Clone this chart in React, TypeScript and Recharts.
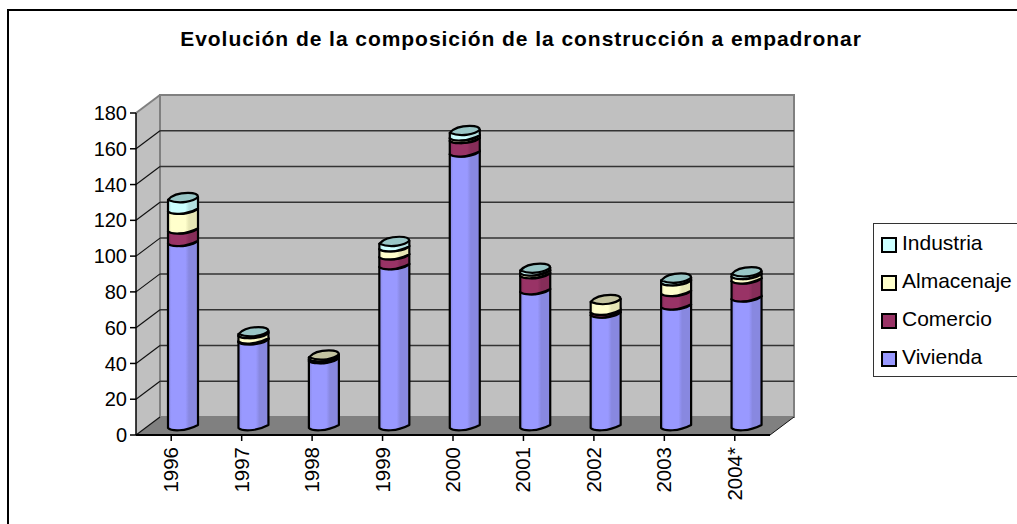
import { BarChart, Bar, XAxis, YAxis, Legend, usePlotArea } from 'recharts'

const years = ['1996', '1997', '1998', '1999', '2000', '2001', '2002', '2003', '2004*']
const vivienda = [103, 48, 37.5, 90, 153, 76, 63, 67.5, 72]
const comercio = [7, 0.5, 1, 5.5, 7.5, 9, 1.5, 7.5, 10]
const almacenaje = [11, 3, 1, 4.5, 1.5, 1.5, 6, 6, 2.5]
const industria = [6.5, 1, 0, 3, 3, 1.5, 0, 1.5, 1.5]
const yTicks = [0, 20, 40, 60, 80, 100, 120, 140, 160, 180]
const yMax = 180

const seriesNames = ['Vivienda', 'Comercio', 'Almacenaje', 'Industria']
const seriesColors = ['#9999FF', '#993366', '#FFFFCC', '#CCFFFF']
const shadeColors = ['#8888E0', '#862D59', '#E6E6B4', '#B3E0E0']
const capColors = ['#7A7ACC', '#7A2952', '#C4C4A0', '#99C6C6']

const data = years.map((year, i) => ({
  year,
  Vivienda: vivienda[i],
  Comercio: comercio[i],
  Almacenaje: almacenaje[i],
  Industria: industria[i],
}))

const FONT = '"Liberation Sans", Arial, sans-serif'
const DEPTH_X = 24
const DEPTH_Y = 18
const BAR_DX = 12
const BAR_DY = -7

// back wall, side wall, floor and the gridlines running over them
const Walls = () => {
  const plot = usePlotArea()
  if (!plot) return null
  const { x, y, width, height } = plot
  const b = y + height
  const r = x + width
  const backX = x + DEPTH_X
  return (
    <g>
      <polygon
        points={`${backX},${y - DEPTH_Y} ${r + DEPTH_X},${y - DEPTH_Y} ${r + DEPTH_X},${b - DEPTH_Y} ${backX},${b - DEPTH_Y}`}
        fill="#C0C0C0"
        stroke="#808080"
        strokeWidth={2}
      />
      <polygon points={`${x},${y} ${backX},${y - DEPTH_Y} ${backX},${b - DEPTH_Y} ${x},${b}`} fill="#C0C0C0" />
      <line x1={backX} y1={y - DEPTH_Y} x2={x} y2={y} stroke="#808080" strokeWidth={2} />
      <polygon points={`${x},${b} ${backX},${b - DEPTH_Y} ${r + DEPTH_X},${b - DEPTH_Y} ${r},${b}`} fill="#808080" />
      <line x1={backX} y1={y - DEPTH_Y} x2={backX} y2={b - DEPTH_Y} stroke="#808080" strokeWidth={2} />
      <line x1={r} y1={b} x2={r + DEPTH_X} y2={b - DEPTH_Y} stroke="#111" strokeWidth={1} />
      {yTicks.slice(0, -1).map((t) => {
        const ty = b - (t / yMax) * height
        return (
          <g key={t}>
            <line x1={x} y1={ty} x2={backX} y2={ty - DEPTH_Y} stroke="#111" strokeWidth={1.2} />
            {t > 0 && <line x1={backX} y1={ty - DEPTH_Y} x2={r + DEPTH_X} y2={ty - DEPTH_Y} stroke="#333" strokeWidth={1.5} />}
          </g>
        )
      })}
    </g>
  )
}

const Cylinder = (props: any) => {
  const { x, y, width, height, seriesIndex } = props
  if (!height || height <= 0) return <g />
  const L = x + BAR_DX
  const R = L + width
  const top = y + BAR_DY
  const bot = y + height + BAR_DY
  const body = `M ${L} ${top} L ${L} ${bot} C ${L + 3} ${bot + 3}, ${L + 17} ${bot + 4}, ${R} ${bot - 3} L ${R} ${top - 3} Z`
  const cap = `M ${L} ${top} C ${L + 5} ${top - 6}, ${L + 12} ${top - 7}, ${L + 20} ${top - 7} C ${R - 4} ${top - 7}, ${R} ${top - 6}, ${R} ${top - 3} C ${R - 4} ${top + 1}, ${L + 12} ${top + 5}, ${L} ${top} Z`
  return (
    <g>
      <path d={body} fill={`url(#cyl${seriesIndex})`} stroke="#000" strokeWidth={2.2} strokeLinejoin="round" />
      <path d={cap} fill={capColors[seriesIndex]} stroke="#000" strokeWidth={2.2} strokeLinejoin="round" />
    </g>
  )
}

const YearTick = ({ x, y, payload }: any) => (
  <text
    transform={`translate(${x + 7},${y + 4}) rotate(-90)`}
    textAnchor="end"
    fontFamily={FONT}
    fontSize={20.5}
    fill="#000"
  >
    {payload.value}
  </text>
)

const LegendBox = () => (
  <div
    style={{
      position: 'absolute',
      left: 0,
      top: 0,
      width: 160,
      height: 152,
      background: '#fff',
      border: '1.5px solid #333',
      fontFamily: FONT,
      fontSize: 21,
    }}
  >
    {[3, 2, 1, 0].map((i, row) => (
      <div key={i} style={{ position: 'absolute', left: 7, top: 13 + row * 38, display: 'flex', alignItems: 'center', height: 16 }}>
        <span
          style={{
            width: 12,
            height: 12,
            background: seriesColors[i],
            border: '2px solid #000',
            marginRight: 5,
            flexShrink: 0,
          }}
        />
        <span style={{ whiteSpace: 'nowrap', position: 'relative', top: -2 }}>{seriesNames[i]}</span>
      </div>
    ))}
  </div>
)

export default function App() {
  return (
    <div style={{ position: 'absolute', left: 0, top: 0, width: 1017, height: 524, overflow: 'hidden', background: '#fff' }}>
      <div style={{ position: 'absolute', left: 7, top: 9, width: 1020, height: 530, borderLeft: '2px solid #000', borderTop: '2px solid #000' }} />
      <div style={{ position: 'absolute', left: 0, top: 0 }}>
        <BarChart
          width={1017}
          height={524}
          data={data}
          barSize={30}
          margin={{ top: 113, right: 87, bottom: 29, left: 96 }}
        >
          <defs>
            {seriesColors.map((c, i) => (
              <linearGradient key={i} id={`cyl${i}`} x1="0" y1="0" x2="1" y2="0">
                <stop offset="0%" stopColor={shadeColors[i]} />
                <stop offset="12%" stopColor={c} />
                <stop offset="58%" stopColor={c} />
                <stop offset="70%" stopColor={shadeColors[i]} />
                <stop offset="100%" stopColor={shadeColors[i]} />
              </linearGradient>
            ))}
          </defs>
          <Walls />
          <XAxis
            dataKey="year"
            height={60}
            interval={0}
            tick={<YearTick />}
            tickLine={{ stroke: '#000', strokeWidth: 1.5 }}
            tickSize={6}
            axisLine={{ stroke: '#000', strokeWidth: 2 }}
          />
          <YAxis
            width={40}
            domain={[0, yMax]}
            ticks={yTicks}
            interval={0}
            tick={{ fontFamily: FONT, fontSize: 20, fill: '#000' }}
            tickLine={{ stroke: '#000', strokeWidth: 1.5 }}
            tickSize={6}
            tickMargin={3}
            axisLine={{ stroke: '#000', strokeWidth: 1.5 }}
          />
          <Legend
            layout="vertical"
            align="right"
            verticalAlign="middle"
            content={<LegendBox />}
            wrapperStyle={{ left: 873, top: 223, width: 160, height: 152 }}
          />
          {seriesNames.map((name, i) => (
            <Bar
              key={name}
              dataKey={name}
              stackId="a"
              fill={seriesColors[i]}
              isAnimationActive={false}
              shape={(p: any) => <Cylinder {...p} seriesIndex={i} />}
            />
          ))}
          <text x={521} y={46} textAnchor="middle" fontFamily={FONT} fontWeight="bold" fontSize={21} letterSpacing={0.95} fill="#000">
            Evolución de la composición de la construcción a empadronar
          </text>
        </BarChart>
      </div>
    </div>
  )
}
